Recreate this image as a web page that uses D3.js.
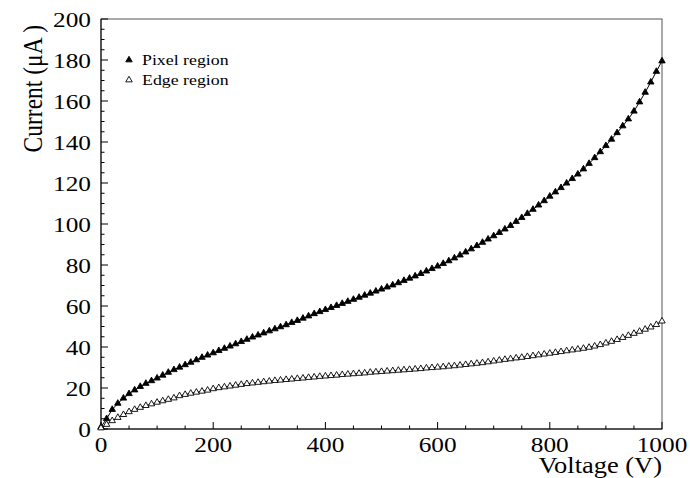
<!DOCTYPE html>
<html>
<head>
<meta charset="utf-8">
<script src="https://cdn.jsdelivr.net/npm/d3@7"></script>
<style>
  body { margin: 0; background: #fff; }
</style>
</head>
<body>
<div id="chart"></div>
<script>
// voltage steps (V), one reading every 10 V
var voltage = d3.range(0, 1001, 10);

// current (uA), pixel region
var pixelCurrent = [
  1.0, 5.0, 9.5, 12.5, 15.0, 17.2, 19.0, 20.7, 22.2, 23.5,
  24.8, 26.2, 27.6, 28.9, 30.1, 31.3, 32.5, 33.7, 34.9, 36.0,
  37.1, 38.2, 39.3, 40.4, 41.5, 42.6, 43.7, 44.8, 45.8, 46.8,
  47.8, 48.8, 49.8, 50.8, 51.9, 52.9, 54.0, 55.1, 56.2, 57.2,
  58.2, 59.2, 60.2, 61.2, 62.2, 63.2, 64.2, 65.2, 66.2, 67.2,
  68.2, 69.2, 70.2, 71.3, 72.4, 73.5, 74.6, 75.8, 77.0, 78.2,
  79.4, 80.7, 82.0, 83.4, 84.8, 86.3, 87.8, 89.4, 91.0, 92.6,
  94.2, 95.8, 97.5, 99.2, 101.2, 103.1, 105.1, 107.1, 109.2, 111.3,
  113.5, 115.6, 117.7, 119.9, 122.1, 124.3, 126.8, 129.5, 132.3, 135.2,
  138.2, 141.3, 144.5, 147.8, 151.2, 155.0, 159.5, 164.2, 169.2, 174.4,
  179.5
];

// current (uA), edge region
var edgeCurrent = [
  0.5, 2.2, 4.0, 5.6, 7.0, 8.4, 9.5, 10.5, 11.4, 12.2,
  13.0, 13.7, 14.4, 15.1, 16.2, 16.8, 17.4, 17.9, 18.4, 18.9,
  19.6, 20.1, 20.5, 20.9, 21.3, 21.7, 22.1, 22.4, 22.7, 23.0,
  23.3, 23.6, 23.8, 24.1, 24.3, 24.6, 24.8, 25.1, 25.3, 25.6,
  25.8, 26.0, 26.2, 26.5, 26.7, 26.9, 27.1, 27.3, 27.6, 27.8,
  28.0, 28.2, 28.4, 28.6, 28.8, 29.0, 29.2, 29.4, 29.7, 29.9,
  30.1, 30.3, 30.6, 30.8, 31.1, 31.4, 31.7, 32.0, 32.3, 32.7,
  33.1, 33.5, 33.9, 34.2, 34.6, 34.9, 35.3, 35.7, 36.1, 36.5,
  36.9, 37.3, 37.7, 38.1, 38.5, 38.9, 39.3, 39.8, 40.4, 41.1,
  41.9, 42.7, 43.6, 44.6, 45.6, 46.6, 47.6, 48.6, 49.7, 50.9,
  52.6
];

var seriesNames = ["Pixel region", "Edge region"];
var xTicks = [0, 200, 400, 600, 800, 1000];
var yTicks = [0, 20, 40, 60, 80, 100, 120, 140, 160, 180, 200];

var width = 690, height = 478;
var margin = { left: 101, right: 28, top: 19, bottom: 49 };
var serif = "'Liberation Serif', 'Times New Roman', 'DejaVu Serif', serif";
var stretch = 1.15; // the original render is a bit wide

var svg = d3.select("#chart").append("svg")
    .attr("width", width)
    .attr("height", height)
    .style("background-color", "white")
    .style("font-family", serif);

var x = d3.scaleLinear().domain([0, 1000]).range([margin.left, width - margin.right]);
var y = d3.scaleLinear().domain([0, 200]).range([height - margin.bottom, margin.top]);

function label(g, tx, ty, anchor, size, str) {
  return g.append("text")
      .attr("transform", "translate(" + tx + "," + ty + ") scale(" + stretch + ",1)")
      .style("text-anchor", anchor)
      .style("font-family", serif)
      .style("font-size", size + "px")
      .style("fill", "#000")
      .text(str);
}

// frame
svg.append("rect")
    .attr("x", x(0))
    .attr("y", y(200))
    .attr("width", x(1000) - x(0))
    .attr("height", y(0) - y(200))
    .attr("fill", "none")
    .attr("stroke", "#555")
    .attr("stroke-width", 1);

// ticks, majors drawn longer
var xMinor = d3.range(0, 1001, 50);
var yMinor = d3.range(0, 201, 5);

svg.append("g")
    .selectAll("line")
    .data(xMinor)
    .enter()
    .append("line")
    .attr("x1", function(d) { return x(d); })
    .attr("x2", function(d) { return x(d); })
    .attr("y1", y(0))
    .attr("y2", function(d) { return y(0) - (d % 200 === 0 ? 7 : 3.5); })
    .attr("stroke", "#000");

svg.append("g")
    .selectAll("line")
    .data(yMinor)
    .enter()
    .append("line")
    .attr("y1", function(d) { return y(d); })
    .attr("y2", function(d) { return y(d); })
    .attr("x1", x(0))
    .attr("x2", function(d) { return x(0) + (d % 20 === 0 ? 7 : 3.5); })
    .attr("stroke", "#000");

svg.append("line")
    .attr("x1", x(0)).attr("x2", x(1000))
    .attr("y1", y(0)).attr("y2", y(0))
    .attr("stroke", "#000");
svg.append("line")
    .attr("x1", x(0)).attr("x2", x(0))
    .attr("y1", y(0)).attr("y2", y(200))
    .attr("stroke", "#000");

// tick labels
var xl = svg.append("g").attr("class", "x labels");
xTicks.forEach(function(d) {
  label(xl, x(d), y(0) + 23, "middle", 22, d);
});
var yl = svg.append("g").attr("class", "y labels");
yTicks.forEach(function(d) {
  label(yl, x(0) - 10, y(d) + 8, "end", 22, d);
});

// axis titles
label(svg, x(1000), 473, "end", 23, "Voltage (V)");

svg.append("text")
    .attr("transform", "translate(42," + (y(200) + 6) + ") scale(" + stretch + ",1) rotate(-90)")
    .style("text-anchor", "end")
    .style("font-family", serif)
    .style("font-size", "23.5px")
    .style("fill", "#000")
    .text("Current (\u03BCA )");

// curves
var series = [
  { name: seriesNames[0], values: pixelCurrent, fill: "#000" },
  { name: seriesNames[1], values: edgeCurrent, fill: "#fff" }
];

var line = d3.line()
    .x(function(d) { return x(d[0]); })
    .y(function(d) { return y(d[1]); });

var tri = d3.symbol().type(d3.symbolTriangle).size(18);

series.forEach(function(s) {
  var pts = voltage.map(function(v, i) { return [v, s.values[i]]; });
  var g = svg.append("g").attr("class", "series");
  g.append("path")
      .attr("d", line(pts))
      .attr("fill", "none")
      .attr("stroke", "#000")
      .attr("stroke-width", 1);
  g.selectAll("path.pt")
      .data(pts)
      .enter()
      .append("path")
      .attr("class", "pt")
      .attr("d", tri)
      .attr("transform", function(d) { return "translate(" + x(d[0]) + "," + y(d[1]) + ")"; })
      .attr("fill", s.fill)
      .attr("stroke", "#000")
      .attr("stroke-width", 0.9);
});

// legend
var legend = svg.append("g").attr("class", "legend");
series.forEach(function(s, i) {
  var ly = 61 + i * 20;
  legend.append("path")
      .attr("d", tri)
      .attr("transform", "translate(129," + (ly - 1) + ")")
      .attr("fill", s.fill)
      .attr("stroke", "#000")
      .attr("stroke-width", 0.9);
  label(legend, 142, ly + 4, "start", 15.5, s.name);
});
</script>
</body>
</html>
